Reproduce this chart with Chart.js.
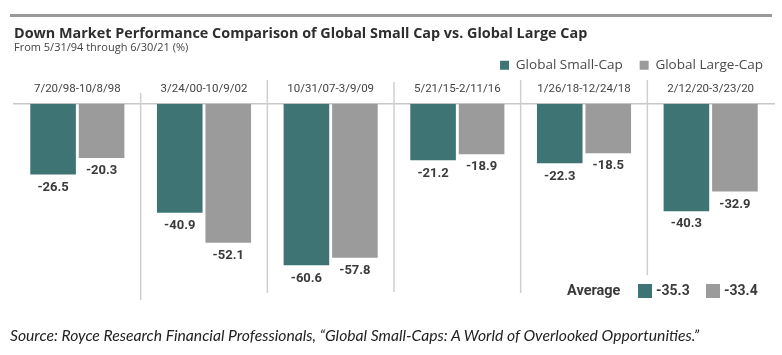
<!DOCTYPE html>
<html>
<head>
<meta charset="utf-8">
<script src="https://cdn.jsdelivr.net/npm/chart.js@4.4.1/dist/chart.umd.min.js"></script>
<style>
  html, body { margin: 0; padding: 0; background: #ffffff; }
  #wrap { position: relative; width: 782px; height: 355px; overflow: hidden; }
  #chartBox { position: absolute; left: 0; top: 0; width: 782px; height: 355px; z-index: 1; }
  #rule { position: absolute; left: 10px; top: 14px; width: 762px; height: 3px; background: #9a9a9a; z-index: 5; }
  #source { position: absolute; left: 10px; top: 327px; line-height: 16px; font-family: Lato, "Open Sans", sans-serif; font-style: italic; font-size: 15px; color: #222; white-space: nowrap; z-index: 5; }
</style>
</head>
<body>
<div id="wrap">
  <div id="chartBox"><canvas id="c"></canvas></div>
  <div id="rule"></div>
  <div id="source">Source: Royce Research Financial Professionals, “Global Small-Caps: A World of Overlooked Opportunities.”</div>
</div>
<script>
const categories = ["7/20/98-10/8/98", "3/24/00-10/9/02", "10/31/07-3/9/09", "5/21/15-2/11/16", "1/26/18-12/24/18", "2/12/20-3/23/20"];
const smallCap = [-26.5, -40.9, -60.6, -21.2, -22.3, -40.3];
const largeCap = [-20.3, -52.1, -57.8, -18.9, -18.5, -32.9];
const seriesNames = ["Global Small-Cap", "Global Large-Cap"];
const averages = [-35.3, -33.4];
const averageLabel = "Average";
const titleText = "Down Market Performance Comparison of Global Small Cap vs. Global Large Cap";
const subtitleText = "From 5/31/94 through 6/30/21 (%)";

const TEAL = "#3e7574";
const GRAY = "#9b9b9b";
const TXT = "#3a3a3a";
const WIDE = "'Open Sans', Roboto, sans-serif";

Chart.defaults.font.family = "Roboto, 'Liberation Sans', sans-serif";

// fit title font size to the reference width
const mctx = document.createElement("canvas").getContext("2d");
mctx.font = "bold 14px " + WIDE;
const titleSize = Math.max(12, Math.min(16, 14 * 574 / mctx.measureText(titleText).width));

// fit source line width
const srcEl = document.getElementById("source");
const srcW = srcEl.getBoundingClientRect().width;
srcEl.style.fontSize = (15 * 690 / srcW).toFixed(2) + "px";

const sepExtents = [[93, 300], [80, 293], [82, 292], [80, 293], [80, 275]];

const legendShift = {
  id: "legendShift",
  afterLayout(chart) {
    chart.legend.left += 6;
    chart.legend.right += 6;
  }
};

const decorations = {
  id: "decorations",
  afterDatasetsDraw(chart) {
    const ctx = chart.ctx;
    const xs = chart.scales.x;
    ctx.save();
    ctx.strokeStyle = "#cfcfcf";
    ctx.lineWidth = 1.5;
    for (let k = 1; k < categories.length; k++) {
      const x = (xs.getPixelForValue(k - 1) + xs.getPixelForValue(k)) / 2;
      const e = sepExtents[k - 1];
      ctx.beginPath();
      ctx.moveTo(x, e[0]);
      ctx.lineTo(x, e[1]);
      ctx.stroke();
    }
    ctx.fillStyle = TXT;
    ctx.font = "bold 13px Roboto, 'Liberation Sans', sans-serif";
    ctx.textAlign = "center";
    ctx.textBaseline = "middle";
    chart.data.datasets.forEach((ds, i) => {
      const meta = chart.getDatasetMeta(i);
      meta.data.forEach((bar, j) => {
        ctx.fillText(ds.data[j].toFixed(1), bar.x, bar.y + 13);
      });
    });
    const y = 291;
    ctx.textAlign = "left";
    ctx.font = "bold 14.5px Roboto, 'Liberation Sans', sans-serif";
    ctx.fillText(averageLabel, 567, y);
    const colors = [TEAL, GRAY];
    const xsq = [638, 706];
    ctx.font = "bold 14px Roboto, 'Liberation Sans', sans-serif";
    averages.forEach((v, i) => {
      ctx.fillStyle = colors[i];
      ctx.fillRect(xsq[i], 284, 14, 14);
      ctx.fillStyle = TXT;
      ctx.fillText(v.toFixed(1), xsq[i] + 18, y);
    });
    ctx.restore();
  }
};

new Chart(document.getElementById("c"), {
  type: "bar",
  data: {
    labels: categories,
    datasets: [
      { label: seriesNames[0], data: smallCap, backgroundColor: TEAL, borderWidth: 0 },
      { label: seriesNames[1], data: largeCap, backgroundColor: GRAY, borderWidth: 0 }
    ]
  },
  options: {
    responsive: true,
    maintainAspectRatio: false,
    animation: false,
    layout: { padding: { left: 14, right: 8, top: 0, bottom: 54 } },
    categoryPercentage: 0.766,
    barPercentage: 0.94,
    plugins: {
      tooltip: { enabled: false },
      title: {
        display: true,
        text: titleText,
        align: "start",
        color: "#2e2e2e",
        font: { family: WIDE, size: titleSize, weight: "bold" },
        padding: { top: 25.5, bottom: -16.9 }
      },
      subtitle: {
        display: true,
        text: subtitleText,
        align: "start",
        color: "#444",
        font: { family: WIDE, size: 11 },
        padding: { top: 15, bottom: -12.45 }
      },
      legend: {
        display: true,
        position: "top",
        align: "end",
        labels: {
          boxWidth: 9,
          boxHeight: 9,
          padding: 17,
          color: "#4a4a4a",
          font: { family: WIDE, size: 13.5 }
        }
      }
    },
    scales: {
      x: {
        position: "top",
        grid: { display: false, drawTicks: false },
        border: { display: true, color: "#c8c8c8", width: 1.5 },
        ticks: { color: "#444", font: { size: 11.5 }, padding: 7.6, maxRotation: 0, autoSkip: false },
        afterFit(scale) { scale.height = 21.75; }
      },
      y: {
        display: false,
        min: -74,
        max: 0
      }
    }
  },
  plugins: [legendShift, decorations]
});
</script>
</body>
</html>
